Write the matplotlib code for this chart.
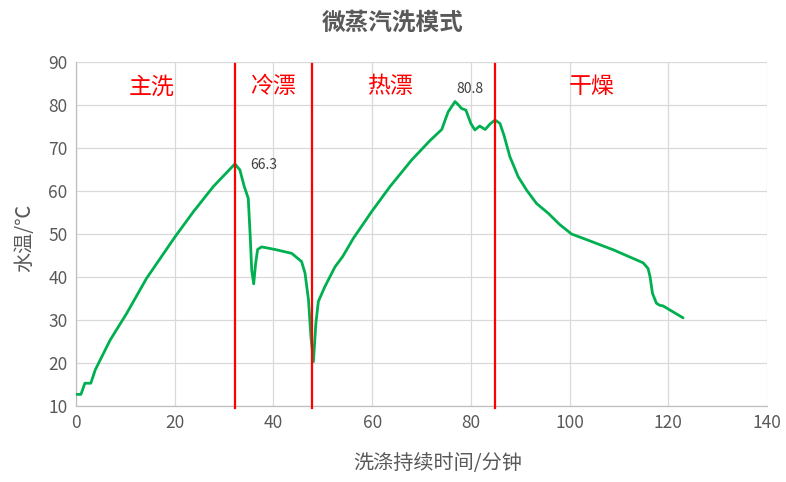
import matplotlib
matplotlib.use("Agg")
import matplotlib.pyplot as plt

plt.rcParams['font.family'] = ['Noto Sans CJK SC', 'DejaVu Sans']

# ---- data ----
time_min = [0, 1.0, 1.8, 3.0, 3.9, 4.9, 6.9, 10.3, 14.3, 20.1, 23.8, 27.8, 32.2, 33.2, 34.1,
            34.9, 35.3, 35.6, 36.0, 36.4, 36.8, 37.6, 40.3, 43.7, 45.7, 46.4, 47.1, 47.6,
            48.1, 48.6, 49.1, 50.4, 52.5, 54.0, 56.2, 59.9, 63.6, 68.0, 71.7, 74.1, 75.4,
            76.8, 77.5, 78.1, 79.0, 80.0, 80.8, 81.8, 82.9, 83.9, 84.9, 85.9, 86.7, 87.9,
            89.6, 91.3, 93.3, 95.7, 98.0, 100.4, 104.1, 108.9, 112.9, 114.9, 115.9, 116.3,
            116.8, 117.6, 118.3, 118.9, 123.0]
water_temp = [12.7, 12.7, 15.3, 15.3, 18.4, 20.7, 25.3, 31.6, 39.7, 49.4, 55.2, 61.0, 66.3, 64.9, 61.0,
              58.3, 49.4, 41.6, 38.4, 43.2, 46.4, 47.0, 46.4, 45.5, 43.6, 40.9, 34.7, 26.1,
              20.3, 29.2, 34.3, 37.7, 42.4, 44.7, 49.0, 55.2, 61.0, 67.2, 71.7, 74.3, 78.4,
              80.8, 80.0, 79.2, 78.8, 75.7, 74.2, 75.1, 74.3, 75.6, 76.5, 75.7, 73.0, 68.0,
              63.3, 60.2, 57.1, 54.8, 52.2, 50.0, 48.4, 46.3, 44.3, 43.3, 42.0, 40.1,
              36.2, 33.9, 33.4, 33.3, 30.5]
phase_bounds = [32.2, 47.9, 84.9]
phase_names = ['主洗', '冷漂', '热漂', '干燥']
phase_label_x = [15.4, 40.0, 63.6, 104.5]
peak_labels = ['66.3', '80.8']
x_ticks = [0, 20, 40, 60, 80, 100, 120, 140]
y_ticks = [10, 20, 30, 40, 50, 60, 70, 80, 90]

fig = plt.figure(figsize=(7.86, 4.82), dpi=100)
ax = fig.add_axes([0.0967, 0.1577, 0.8791, 0.7137])

ax.set_xlim(0, 140)
ax.set_ylim(10, 90)
ax.set_xticks(x_ticks)
ax.set_yticks(y_ticks)
ax.grid(True, color='#d9d9d9', linewidth=0.9)
ax.set_axisbelow(True)
for s in ['top', 'right']:
    ax.spines[s].set_visible(False)
for s in ['left', 'bottom']:
    ax.spines[s].set_color('#bfbfbf')
    ax.spines[s].set_linewidth(0.9)
ax.tick_params(length=0, labelsize=12.5, labelcolor='#595959', pad=6)

ax.plot(time_min, water_temp, color='#00B050', linewidth=2.0, solid_joinstyle='round',
        solid_capstyle='round', zorder=3)

for b in phase_bounds:
    ax.plot([b, b], [9.5, 89.5], color='#FF0000', linewidth=1.6, clip_on=False, zorder=4)

for name, x in zip(phase_names, phase_label_x):
    ax.text(x, 84.2, name, color='#FF0000', fontsize=16.5, ha='center', va='center')

ax.text(35.3, 66.0, peak_labels[0], fontsize=10, color='#404040', ha='left', va='center')
ax.text(79.8, 83.7, peak_labels[1], fontsize=10, color='#404040', ha='center', va='center')

fig.text(0.5566, 0.0394, '洗涤持续时间/分钟', fontsize=14.5, color='#595959',
         ha='center', va='center')
fig.text(0.032, 0.506, '水温/℃', fontsize=14.5, color='#595959', rotation=90,
         ha='center', va='center')
fig.text(0.5, 0.953, '微蒸汽洗模式', fontsize=17, fontweight='bold', color='#595959',
         ha='center', va='center')

fig.savefig('out.png', dpi=100)
